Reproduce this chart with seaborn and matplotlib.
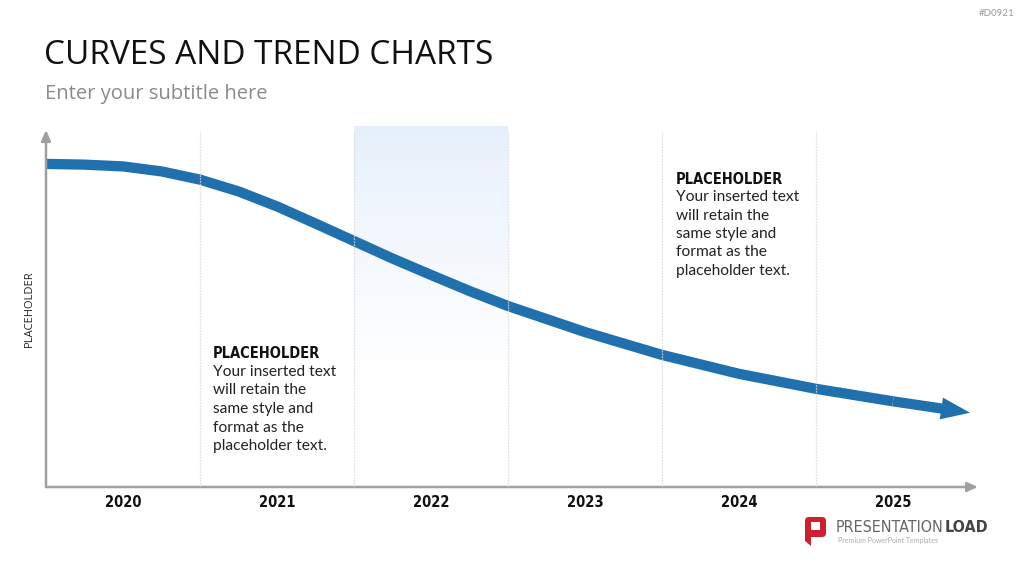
import numpy as np
import pandas as pd
import matplotlib
matplotlib.use("Agg")
import matplotlib.pyplot as plt
from matplotlib.patches import FancyBboxPatch, Rectangle, Polygon
import seaborn as sns

# ---------------- data ----------------
years = ["2020", "2021", "2022", "2023", "2024", "2025"]
curve_x = [0.0, 0.25, 0.5, 0.75, 1.0, 1.25, 1.5, 1.75, 2.0, 2.25, 2.5, 2.75, 3.0,
           3.5, 4.0, 4.5, 5.0, 5.5]
curve_y = [90.5, 90.3, 89.8, 88.4, 86.1, 82.8, 78.6, 73.8, 68.9, 64.0, 59.4, 54.9, 50.7,
           43.4, 37.0, 31.7, 27.5, 24.0]
arrow_tip = (6.0, 20.8)
highlight_year = 2  # index of 2022 column
y_label = "PLACEHOLDER"
title = "CURVES AND TREND CHARTS"
subtitle = "Enter your subtitle here"
note_head = "PLACEHOLDER"
note_body = ["Your inserted text", "will retain the", "same style and",
             "format as the", "placeholder text."]

# ---------------- style ----------------
sns.set_theme(style="white")
plt.rcParams["font.family"] = ["Lato", "DejaVu Sans"]
BLUE = "#1F70AD"
GREY = "#A0A0A0"
NARROW = ["DejaVu Sans"]

W, H = 1024, 576
fig = plt.figure(figsize=(W / 100, H / 100), dpi=100)
fig.patch.set_facecolor("white")

def fx(x):
    return x / W

def fy(y):
    return 1 - y / H

ax_left, ax_right, ax_top, ax_bot = 46, 978, 130, 487
ax = fig.add_axes([fx(ax_left), fy(ax_bot), (ax_right - ax_left) / W, (ax_bot - ax_top) / H])
ax.set_facecolor("none")
xmax = 6 * (ax_right - ax_left) / (970 - ax_left)
ax.set_xlim(0, xmax)
ax.set_ylim(0, 100)
for s in ax.spines.values():
    s.set_visible(False)

# highlighted column with vertical gradient
n = 200
t = np.linspace(0, 1, n)[:, None]
top_col = np.array(matplotlib.colors.to_rgb("#E5EFFB"))
blend = np.clip(t / 0.7, 0, 1) ** 0.8
img = (1 - blend)[:, :, None] * top_col[None, None, :] + blend[:, :, None] * np.ones(3)[None, None, :]
ax.imshow(img, extent=[highlight_year, highlight_year + 1, 0, 101], aspect="auto",
          origin="upper", zorder=0, clip_on=False)

# curve
df = pd.DataFrame({"x": curve_x, "y": curve_y})
sns.lineplot(data=df, x="x", y="y", ax=ax, color=BLUE, linewidth=7.4, zorder=3,
             solid_capstyle="butt", solid_joinstyle="round")
ax.annotate("", xy=arrow_tip, xytext=(curve_x[-1], curve_y[-1]),
            arrowprops=dict(arrowstyle="simple,head_length=1.45,head_width=1.1,tail_width=0.51",
                            fc=BLUE, ec="none", lw=0, shrinkA=0, shrinkB=0,
                            mutation_scale=14.4), zorder=3)

# vertical grid lines
for i in range(1, 6):
    ax.plot([i, i], [0, 99.5], color="#DADADA", lw=0.9, ls=(0, (1.5, 0.8)), zorder=4, alpha=0.8)

# axes arrows
for xy in [(0, 1.0), (1.0, 0)]:
    ax.annotate("", xy=xy, xytext=(0, 0), xycoords="axes fraction",
                arrowprops=dict(arrowstyle="-|>,head_length=0.45,head_width=0.2", color=GREY,
                                lw=1.8, shrinkA=0, shrinkB=0, mutation_scale=14))

# x tick labels
ax.set_xticks([i + 0.5 for i in range(len(years))])
ax.set_xticklabels(years, fontfamily=NARROW, fontstretch="condensed", fontweight="bold",
                   fontsize=10.5, color="#111111")
ax.tick_params(axis="x", length=0, pad=6)
ax.set_yticks([])
ax.set_xlabel("")
ax.set_ylabel("")

# y label
fig.text(fx(29), fy(309), y_label, rotation=90, ha="center", va="center",
         fontsize=8, color="#222222", fontfamily=["Open Sans", "DejaVu Sans"])

# title & subtitle
fig.text(fx(44), fy(56), title, ha="left", va="center", fontsize=24, color="#111111",
         fontfamily=["Open Sans", "DejaVu Sans"])
fig.text(fx(45), fy(94), subtitle, ha="left", va="center", fontsize=14.5, color="#8A8A8A",
         fontfamily=["Open Sans", "DejaVu Sans"])
fig.text(fx(1014), fy(14), "#D0921", ha="right", va="center", fontsize=7, color="#9A9A9A")

# annotations
def note(x, y_head):
    fig.text(fx(x), fy(y_head), note_head, ha="left", va="center", fontsize=10.5,
             fontweight="bold", fontfamily=NARROW, fontstretch="condensed", color="#111111")
    for k, line in enumerate(note_body):
        fig.text(fx(x), fy(y_head + 18 + k * 18.5), line, ha="left", va="center",
                 fontsize=11.2, color="#222222")

note(213, 354)
note(676, 179)

# logo
lax = fig.add_axes([0, 0, 1, 1])
lax.set_xlim(0, W)
lax.set_ylim(H, 0)
lax.axis("off")
lax.add_patch(FancyBboxPatch((805, 517), 21, 20, boxstyle="round,pad=0,rounding_size=4",
                             fc="#D0202E", ec="none"))
lax.add_patch(Polygon([[805, 530], [811, 530], [811, 546], [805, 541]], closed=True,
                      fc="#D0202E", ec="none"))
lax.add_patch(Rectangle((811, 522), 9, 8, fc="white", ec="none"))
t1 = lax.text(836, 527, "PRESENTATION", ha="left", va="center", fontsize=11.5,
              fontfamily=NARROW, fontstretch="condensed", color="#666666")
fig.canvas.draw()
bb = t1.get_window_extent(fig.canvas.get_renderer())
lax.text(bb.x1 + 0.5, 527, "LOAD", ha="left", va="center", fontsize=11.5, fontweight="bold",
         fontfamily=NARROW, fontstretch="condensed", color="#444444",
         transform=matplotlib.transforms.blended_transform_factory(
             matplotlib.transforms.IdentityTransform(), lax.transData))
lax.text(838, 541, "Premium PowerPoint Templates", ha="left", va="center", fontsize=5,
         color="#AAAAAA")

fig.savefig("out.png", dpi=100, facecolor="white")
